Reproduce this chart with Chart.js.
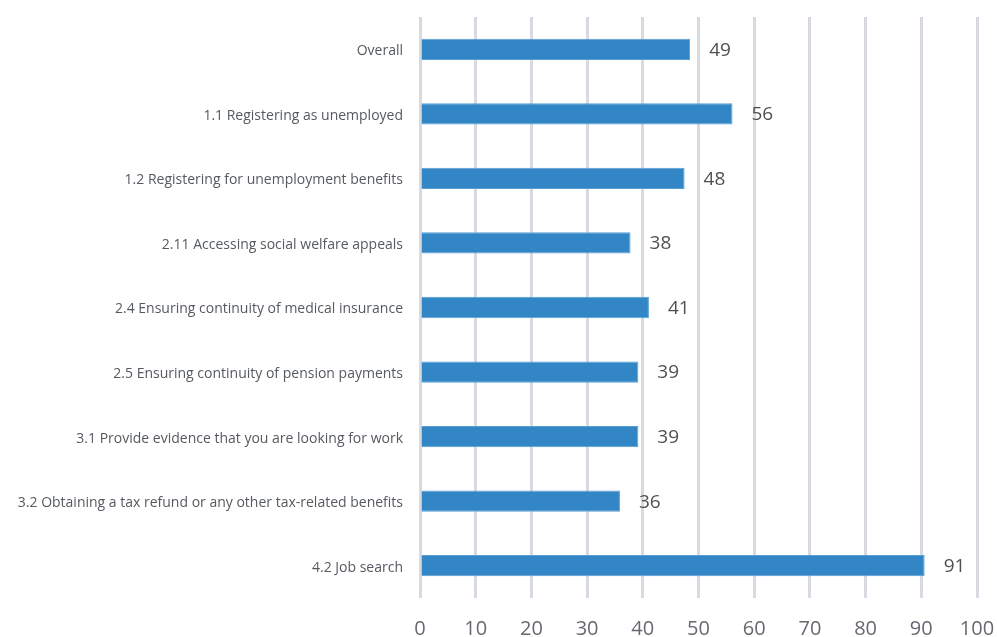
<!DOCTYPE html>
<html>
<head>
<meta charset="utf-8">
<script src="https://cdn.jsdelivr.net/npm/chart.js@4"></script>
<style>
html, body { margin: 0; padding: 0; background: #fff; }
#wrap { width: 997px; height: 637px; }
</style>
</head>
<body>
<div id="wrap"><canvas id="chart"></canvas></div>
<script>
var categories = [
    'Overall',
    '1.1 Registering as unemployed',
    '1.2 Registering for unemployment benefits',
    '2.11 Accessing social welfare appeals',
    '2.4 Ensuring continuity of medical insurance',
    '2.5 Ensuring continuity of pension payments',
    '3.1 Provide evidence that you are looking for work',
    '3.2 Obtaining a tax refund or any other tax-related benefits',
    '4.2 Job search'
];
var scores = [48.5, 56.1, 47.5, 37.8, 41.1, 39.2, 39.2, 35.9, 90.6];

// draws the rounded value to the right of each bar
var valueLabels = {
    id: 'valueLabels',
    afterDatasetsDraw: function(chart) {
        var ctx = chart.ctx;
        var meta = chart.getDatasetMeta(0);
        ctx.save();
        ctx.font = '19px "Open Sans"';
        ctx.fillStyle = '#505050';
        ctx.textAlign = 'left';
        ctx.textBaseline = 'middle';
        meta.data.forEach(function(bar, i) {
            ctx.fillText(Math.round(scores[i]), bar.x + 19, bar.y + 1);
        });
        ctx.restore();
    }
};

var ctx = document.getElementById('chart');
var chart = new Chart(ctx, {
    type: 'bar',
    data: {
        labels: categories,
        datasets: [{
            data: scores,
            backgroundColor: '#3286c6',
            borderColor: '#5a9fd4',
            borderWidth: 1,
            barPercentage: 0.33,
            categoryPercentage: 1
        }]
    },
    options: {
        indexAxis: 'y',
        responsive: true,
        maintainAspectRatio: false,
        animation: false,
        layout: { padding: { top: 17, right: 20, bottom: 0, left: 8 } },
        plugins: {
            legend: { display: false },
            tooltip: { enabled: false }
        },
        scales: {
            x: {
                min: 0,
                max: 100,
                ticks: {
                    stepSize: 10,
                    color: '#666a70',
                    font: { family: 'Open Sans', size: 20 },
                    padding: 19
                },
                grid: {
                    color: '#d8dae2',
                    lineWidth: 3,
                    drawTicks: false
                },
                border: { display: false },
                afterFit: function(scale) {
                    scale.height = 39;
                    scale.paddingRight = 10;
                    scale.paddingLeft = 0;
                }
            },
            y: {
                ticks: {
                    color: '#555a60',
                    font: { family: 'Open Sans', size: 14 },
                    padding: 17,
                    labelOffset: 2
                },
                grid: { display: false, drawTicks: false },
                border: { display: false },
                afterFit: function(scale) {
                    scale.width = 412;
                    scale.paddingTop = 0;
                    scale.paddingBottom = 0;
                }
            }
        }
    },
    plugins: [valueLabels]
});
</script>
</body>
</html>
